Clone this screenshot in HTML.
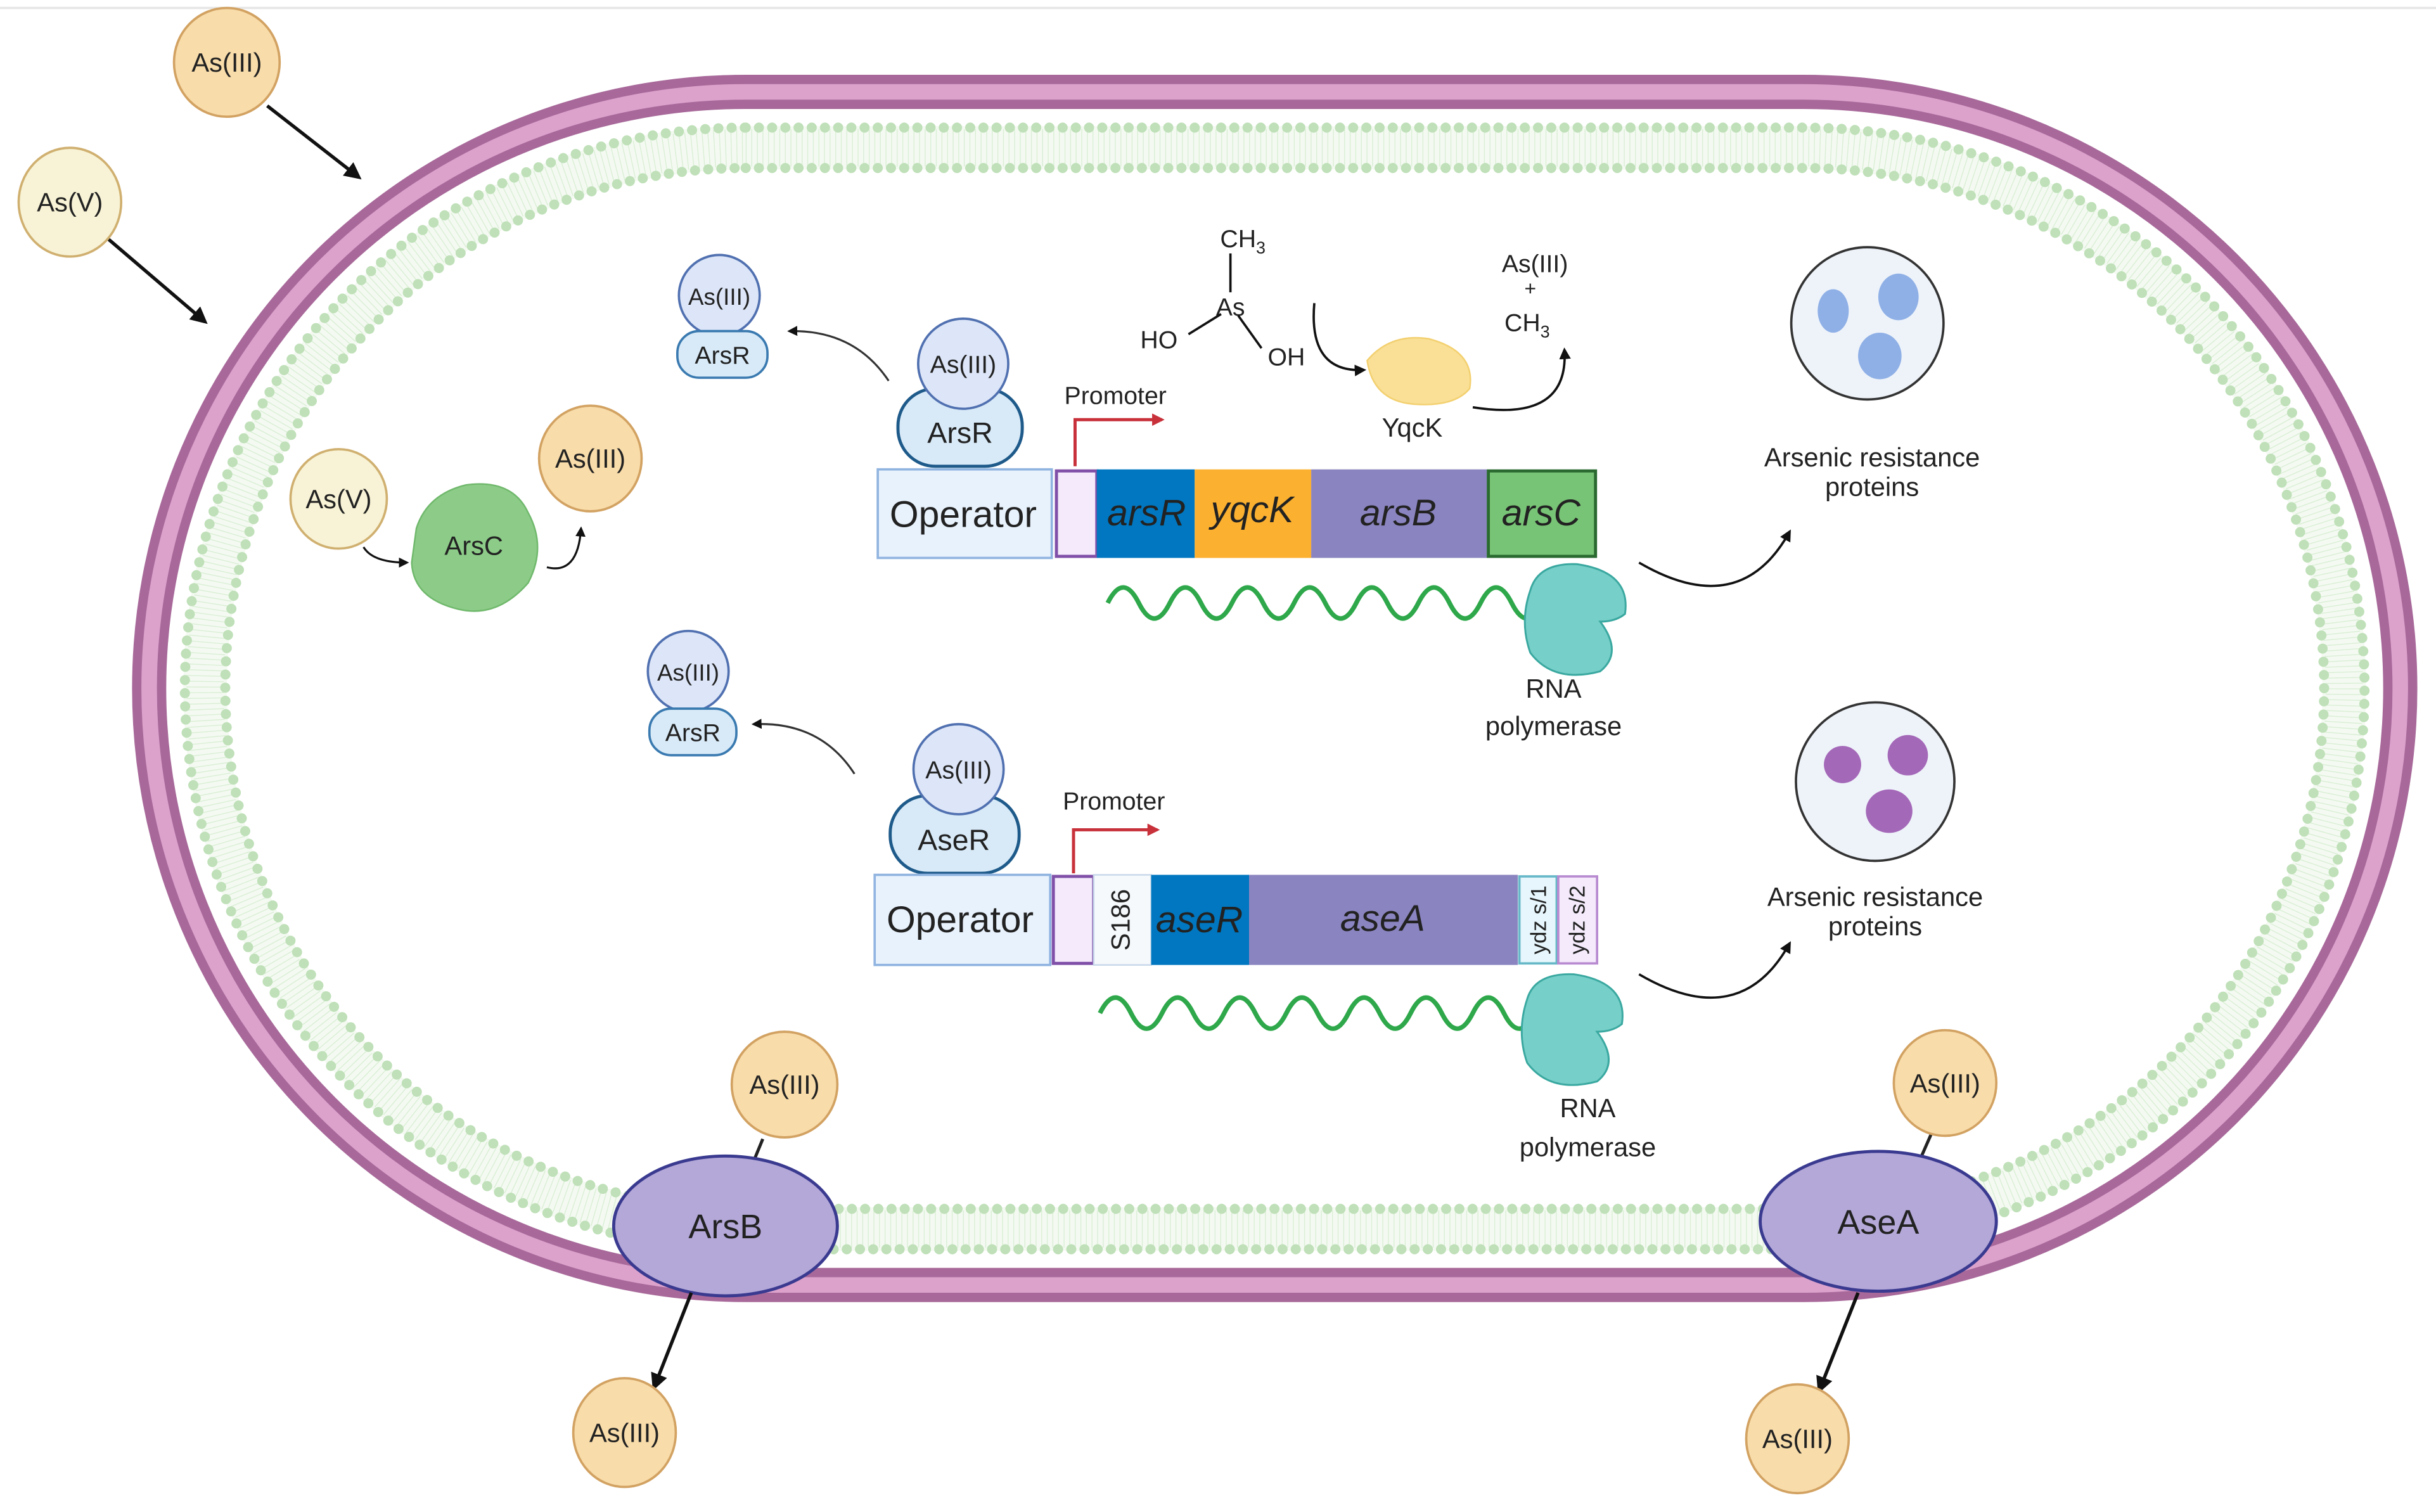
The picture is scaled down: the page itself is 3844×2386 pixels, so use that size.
<!DOCTYPE html>
<html><head><meta charset="utf-8"><style>html,body{margin:0;padding:0;background:#fff}svg{display:block}</style></head><body>
<svg xmlns="http://www.w3.org/2000/svg" width="3844" height="2386" viewBox="0 0 1568 973" font-family="Liberation Sans, Arial, sans-serif">
<defs>
<marker id="ah" viewBox="0 0 10 10" refX="8" refY="5" markerWidth="5" markerHeight="5" orient="auto"><path d="M0,0 L10,5 L0,10 Z" fill="#111"/></marker>
<marker id="ar" viewBox="0 0 10 10" refX="8" refY="5" markerWidth="4" markerHeight="4" orient="auto"><path d="M0,0 L10,5 L0,10 Z" fill="#c8303a"/></marker>
</defs>
<rect width="1568" height="973" fill="#fff"/>
<line x1="0" y1="5" x2="1568" y2="5" stroke="#e6e6e6" stroke-width="1.5"/>
<!-- cell wall -->
<rect x="96" y="59" width="1449" height="768" rx="384" fill="#fff" stroke="#a8699a" stroke-width="22"/>
<rect x="96" y="59" width="1449" height="768" rx="384" fill="none" stroke="#dca2cc" stroke-width="10"/>
<!-- membrane -->
<rect x="132" y="95" width="1377" height="696" rx="348" fill="none" stroke="#f4faf2" stroke-width="28"/>
<rect x="132" y="95" width="1377" height="696" rx="348" fill="none" stroke="#dbeed6" stroke-width="24" stroke-dasharray="0.6 3"/>
<rect x="119" y="82" width="1403" height="722" rx="361" fill="none" stroke="#bfe0b8" stroke-width="6.5" stroke-linecap="round" stroke-dasharray="0 8.5"/>
<rect x="145" y="108" width="1351" height="670" rx="335" fill="none" stroke="#bfe0b8" stroke-width="6.5" stroke-linecap="round" stroke-dasharray="0 8.5"/>

<g font-size="17" text-anchor="middle" fill="#222">
<ellipse cx="146" cy="40" rx="34" ry="35" fill="#f8dcaa" stroke="#d2a262" stroke-width="1.5"/><text x="146" y="46">As(III)</text>
<line x1="172" y1="68" x2="231" y2="114" stroke="#111" stroke-width="2.2" marker-end="url(#ah)"/>
<ellipse cx="45" cy="130" rx="33" ry="35" fill="#f8f3d6" stroke="#d0b070" stroke-width="1.5"/><text x="45" y="136">As(V)</text>
<line x1="70" y1="154" x2="132" y2="207" stroke="#111" stroke-width="2.2" marker-end="url(#ah)"/>

<circle cx="463" cy="190" r="26" fill="#dde6f8" stroke="#5070b0" stroke-width="1.5"/><text x="463" y="196" font-size="15">As(III)</text>
<rect x="436" y="213" width="58" height="30" rx="14" fill="#d8eaf8" stroke="#3a7ab0" stroke-width="1.5"/><text x="465" y="234" font-size="16">ArsR</text>
<path d="M572,245 Q550,212 508,213" fill="none" stroke="#333" stroke-width="1.3" marker-end="url(#ah)"/>

<rect x="578" y="250" width="80" height="50" rx="24" fill="#d8eaf8" stroke="#1e5a8a" stroke-width="2"/><text x="618" y="285" font-size="19">ArsR</text>
<circle cx="620" cy="234" r="29" fill="#dde6f8" stroke="#5070b0" stroke-width="1.5"/><text x="620" y="240" font-size="16">As(III)</text>
<text x="718" y="260" font-size="16">Promoter</text>
<path d="M692,300 V270 H748" fill="none" stroke="#c8303a" stroke-width="2" marker-end="url(#ar)"/>

<rect x="565" y="302" width="112" height="57" fill="#e8f2fc" stroke="#90b4e0" stroke-width="1.5"/><text x="620" y="339" font-size="24">Operator</text>
<rect x="680" y="303" width="26" height="55" fill="#f4eafc" stroke="#8050a8" stroke-width="2"/>
<g font-style="italic" font-size="24">
<rect x="706" y="302" width="63" height="57" fill="#0077c0"/><text x="738" y="338">arsR</text>
<rect x="769" y="302" width="75" height="57" fill="#fbb030"/><text x="806" y="336">yqcK</text>
<rect x="844" y="302" width="113" height="57" fill="#8a84c0"/><text x="900" y="338">arsB</text>
<rect x="958" y="303" width="69" height="55" fill="#78c476" stroke="#2a6a30" stroke-width="2"/><text x="992" y="338">arsC</text>
</g>
<path d="M713,388 q10,-20 20,0 q10,20 20,0 q10,-20 20,0 q10,20 20,0 q10,-20 20,0 q10,20 20,0 q10,-20 20,0 q10,20 20,0 q10,-20 20,0 q10,20 20,0 q10,-20 20,0 q10,20 20,0 q10,-20 20,0 q10,20 20,0" fill="none" stroke="#2ea84a" stroke-width="3"/>
<path d="M985,380 Q990,362 1015,363 Q1050,368 1046,395 Q1040,400 1030,400 Q1045,420 1030,432 Q1000,440 985,420 Q978,400 985,380Z" fill="#76cfc8" stroke="#3aa8a0" stroke-width="1.2"/>
<text x="1000" y="449">RNA</text><text x="1000" y="473">polymerase</text>

<text x="800" y="159" font-size="16">CH<tspan font-size="11" dy="4">3</tspan></text>
<line x1="792" y1="163" x2="792" y2="188" stroke="#111" stroke-width="1.5"/>
<text x="792" y="203" font-size="16">As</text>
<line x1="786" y1="202" x2="765" y2="215" stroke="#111" stroke-width="1.5"/>
<line x1="797" y1="203" x2="812" y2="224" stroke="#111" stroke-width="1.5"/>
<text x="746" y="224" font-size="16">HO</text><text x="828" y="235" font-size="16">OH</text>
<path d="M846,195 Q842,240 878,238" fill="none" stroke="#111" stroke-width="1.5" marker-end="url(#ah)"/>
<path d="M880,232 Q895,214 920,218 Q950,226 946,250 Q936,262 910,260 Q884,258 880,232Z" fill="#f9e096" stroke="#f3d070" stroke-width="1"/>
<text x="909" y="281">YqcK</text>
<path d="M948,262 Q1010,272 1007,225" fill="none" stroke="#111" stroke-width="1.5" marker-end="url(#ah)"/>
<text x="988" y="175" font-size="16">As(III)</text><text x="985" y="190" font-size="13">+</text>
<text x="983" y="213" font-size="16">CH<tspan font-size="11" dy="4">3</tspan></text>

<circle cx="1202" cy="208" r="49" fill="#eef3fa" stroke="#333" stroke-width="1.5"/>
<g fill="#8fb0e6"><ellipse cx="1180" cy="200" rx="10" ry="14"/><ellipse cx="1222" cy="191" rx="13" ry="15"/><ellipse cx="1210" cy="229" rx="14" ry="15"/></g>
<text x="1205" y="300">Arsenic resistance</text><text x="1205" y="319">proteins</text>
<path d="M1055,362 Q1120,400 1152,342" fill="none" stroke="#111" stroke-width="1.5" marker-end="url(#ah)"/>

<ellipse cx="218" cy="321" rx="31" ry="32" fill="#f8f3d6" stroke="#d0b070" stroke-width="1.5"/><text x="218" y="327">As(V)</text>
<path d="M234,352 Q240,362 262,362" fill="none" stroke="#111" stroke-width="1.3" marker-end="url(#ah)"/>
<path d="M268,340 Q275,318 300,312 Q330,308 340,330 Q352,352 340,375 Q320,398 295,392 Q266,385 265,362Z" fill="#8ccc88" stroke="#70b86c" stroke-width="1"/>
<text x="305" y="357">ArsC</text>
<ellipse cx="380" cy="295" rx="33" ry="34" fill="#f8dcaa" stroke="#d2a262" stroke-width="1.5"/><text x="380" y="301">As(III)</text>
<path d="M352,365 Q372,370 374,340" fill="none" stroke="#111" stroke-width="1.3" marker-end="url(#ah)"/>

<circle cx="443" cy="432" r="26" fill="#dde6f8" stroke="#5070b0" stroke-width="1.5"/><text x="443" y="438" font-size="15">As(III)</text>
<rect x="418" y="456" width="56" height="30" rx="14" fill="#d8eaf8" stroke="#3a7ab0" stroke-width="1.5"/><text x="446" y="477" font-size="16">ArsR</text>
<path d="M550,498 Q528,464 485,466" fill="none" stroke="#333" stroke-width="1.3" marker-end="url(#ah)"/>

<rect x="573" y="512" width="83" height="50" rx="24" fill="#d8eaf8" stroke="#1e5a8a" stroke-width="2"/><text x="614" y="547" font-size="19">AseR</text>
<circle cx="617" cy="495" r="29" fill="#dde6f8" stroke="#5070b0" stroke-width="1.5"/><text x="617" y="501" font-size="16">As(III)</text>
<text x="717" y="521" font-size="16">Promoter</text>
<path d="M691,562 V534 H745" fill="none" stroke="#c8303a" stroke-width="2" marker-end="url(#ar)"/>

<rect x="563" y="563" width="113" height="58" fill="#e8f2fc" stroke="#90b4e0" stroke-width="1.5"/><text x="618" y="600" font-size="24">Operator</text>
<rect x="678" y="564" width="26" height="56" fill="#f4eafc" stroke="#8050a8" stroke-width="2"/>
<rect x="704" y="563" width="37" height="58" fill="#f6f9fc" stroke="#c8d8ea" stroke-width="1"/>
<text transform="translate(727,592) rotate(-90)" font-size="17">S186</text>
<rect x="741" y="563" width="63" height="58" fill="#0077c0"/><text x="772" y="600" font-size="24" font-style="italic">aseR</text>
<rect x="804" y="563" width="173" height="58" fill="#8a84c0"/><text x="890" y="599" font-size="24" font-style="italic">aseA</text>
<rect x="978" y="564" width="24" height="56" fill="#e6f6fc" stroke="#66b8c8" stroke-width="1.5"/>
<text transform="translate(995,592) rotate(-90)" font-size="14">ydz s/1</text>
<rect x="1003" y="564" width="25" height="56" fill="#f4eafc" stroke="#b88ad0" stroke-width="1.5"/>
<text transform="translate(1020,592) rotate(-90)" font-size="14">ydz s/2</text>
<path d="M708,652 q10,-20 20,0 q10,20 20,0 q10,-20 20,0 q10,20 20,0 q10,-20 20,0 q10,20 20,0 q10,-20 20,0 q10,20 20,0 q10,-20 20,0 q10,20 20,0 q10,-20 20,0 q10,20 20,0 q10,-20 20,0 q10,20 20,0" fill="none" stroke="#2ea84a" stroke-width="3"/>
<path d="M983,643 Q988,626 1013,627 Q1048,632 1044,659 Q1038,664 1028,664 Q1043,684 1028,696 Q998,704 983,684 Q976,664 983,643Z" fill="#76cfc8" stroke="#3aa8a0" stroke-width="1.2"/>
<text x="1022" y="719">RNA</text><text x="1022" y="744">polymerase</text>

<circle cx="1207" cy="503" r="51" fill="#eef3fa" stroke="#333" stroke-width="1.5"/>
<g fill="#a468b8"><ellipse cx="1186" cy="492" rx="12" ry="12"/><ellipse cx="1228" cy="486" rx="13" ry="13"/><ellipse cx="1216" cy="522" rx="15" ry="14"/></g>
<text x="1207" y="583">Arsenic resistance</text><text x="1207" y="602">proteins</text>
<path d="M1055,627 Q1120,665 1152,607" fill="none" stroke="#111" stroke-width="1.5" marker-end="url(#ah)"/>

<line x1="491" y1="733" x2="484" y2="750" stroke="#222" stroke-width="2"/>
<ellipse cx="505" cy="698" rx="34" ry="34" fill="#f8dcaa" stroke="#d2a262" stroke-width="1.5"/><text x="505" y="704">As(III)</text>
<ellipse cx="467" cy="789" rx="72" ry="45" fill="#b4a8d8" stroke="#3a3a90" stroke-width="2"/><text x="467" y="797" font-size="22">ArsB</text>
<line x1="445" y1="832" x2="421" y2="893" stroke="#111" stroke-width="2.2" marker-end="url(#ah)"/>
<ellipse cx="402" cy="922" rx="33" ry="35" fill="#f8dcaa" stroke="#d2a262" stroke-width="1.5"/><text x="402" y="928">As(III)</text>

<line x1="1243" y1="730" x2="1236" y2="746" stroke="#222" stroke-width="2"/>
<ellipse cx="1252" cy="697" rx="33" ry="34" fill="#f8dcaa" stroke="#d2a262" stroke-width="1.5"/><text x="1252" y="703">As(III)</text>
<ellipse cx="1209" cy="786" rx="76" ry="45" fill="#b4a8d8" stroke="#3a3a90" stroke-width="2"/><text x="1209" y="794" font-size="22">AseA</text>
<line x1="1196" y1="832" x2="1171" y2="895" stroke="#111" stroke-width="2.2" marker-end="url(#ah)"/>
<ellipse cx="1157" cy="926" rx="33" ry="35" fill="#f8dcaa" stroke="#d2a262" stroke-width="1.5"/><text x="1157" y="932">As(III)</text>
</g>
</svg>
</body></html>
